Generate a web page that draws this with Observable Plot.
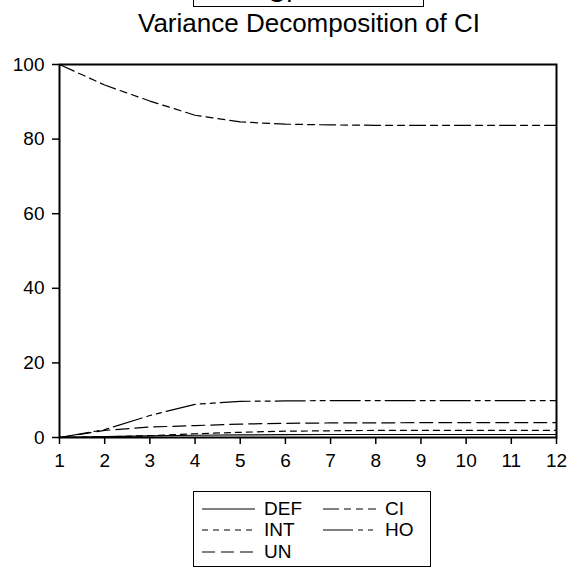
<!DOCTYPE html>
<html>
<head>
<meta charset="utf-8">
<script src="https://cdn.jsdelivr.net/npm/d3@7"></script>
<script src="https://cdn.jsdelivr.net/npm/@observablehq/plot@0.6"></script>
<style>
  html, body { margin: 0; padding: 0; background: #fff; }
  #page { position: relative; width: 579px; height: 569px; overflow: hidden; font-family: "Liberation Sans", Arial, sans-serif; color: #000; }
  #hdr { position: absolute; left: 193px; top: -40px; width: 231px; height: 47px; border: 1px solid #000; box-sizing: border-box; }
  #hdrtext { position: absolute; left: 267px; top: -20px; font-size: 26px; line-height: 26px; }
  #title { position: absolute; left: 0; width: 618px; top: 10px; text-align: center; font-size: 26px; line-height: 26px; white-space: nowrap; }
  #chart { position: absolute; left: 0; top: 40px; }
  #legend { position: absolute; left: 193px; top: 491px; width: 238px; height: 76px; border: 1px solid #000; box-sizing: border-box; }
  .item { position: absolute; height: 22px; font-size: 19px; line-height: 22px; white-space: nowrap; }
  .item svg { position: absolute; left: 0; top: 0; }
  .item span { position: absolute; top: 0; }
</style>
</head>
<body>
<div id="page">
  <div id="hdr"></div>
  <div id="hdrtext">CI</div>
  <div id="title">Variance Decomposition of CI</div>
  <div id="chart"></div>
  <div id="legend"></div>
</div>
<script>
const periods = [1, 2, 3, 4, 5, 6, 7, 8, 9, 10, 11, 12];
const xTicks = [1, 2, 3, 4, 5, 6, 7, 8, 9, 10, 11, 12];
const yTicks = [0, 20, 40, 60, 80, 100];
const seriesNames = ["DEF", "CI", "INT", "HO", "UN"];
const DEF = [0, 0.25, 0.45, 0.6, 0.7, 0.75, 0.8, 0.8, 0.8, 0.8, 0.8, 0.8];
const CI  = [100, 94.5, 90.2, 86.4, 84.6, 84.0, 83.8, 83.7, 83.7, 83.7, 83.7, 83.7];
const INT = [0, 0.2, 0.5, 1.0, 1.4, 1.7, 1.8, 1.9, 1.9, 1.9, 1.9, 1.9];
const HO  = [0, 2.1, 5.9, 8.9, 9.7, 9.8, 9.9, 9.9, 9.9, 9.9, 9.9, 9.9];
const UN  = [0, 1.9, 2.8, 3.2, 3.6, 3.8, 3.9, 3.9, 4.0, 4.0, 4.0, 4.0];

const values = {DEF, CI, INT, HO, UN};
const dashes = {DEF: null, CI: "16,5,7,5,7,5", INT: "6,5", HO: "30,5,5,5,5,5", UN: "13,6"};

const rows = [];
for (const name of seriesNames) {
  values[name].forEach((v, i) => rows.push({series: name, period: periods[i], value: v}));
}

const font = "'Liberation Sans', Arial, sans-serif";
const lineMarks = seriesNames.map(name => Plot.line(rows.filter(d => d.series === name), {
  x: "period", y: "value", stroke: "#000", strokeWidth: 1.2,
  strokeDasharray: dashes[name] || undefined, curve: "linear"
}));

const chart = Plot.plot({
  width: 579,
  height: 440,
  marginLeft: 59,
  marginRight: 23,
  marginTop: 24,
  marginBottom: 43,
  style: {fontFamily: font, fontSize: "19px", color: "#000", background: "#fff", overflow: "visible"},
  x: {domain: [1, 12], label: null},
  y: {domain: [0, 100], label: null},
  marks: [
    ...lineMarks,
    Plot.axisX({ticks: xTicks, tickSize: 7, tickPadding: 9, strokeWidth: 1.5, label: null, tickFormat: d => String(d)}),
    Plot.axisY({ticks: yTicks, tickSize: 7, tickPadding: 8, strokeWidth: 1.5, label: null, tickFormat: d => String(d)}),
    Plot.frame({stroke: "#000", strokeWidth: 2})
  ]
});
document.getElementById("chart").appendChild(chart);

// legend
const legend = document.getElementById("legend");
const legendPos = {
  DEF: [8, 6], CI: [129, 6], INT: [8, 27], HO: [129, 27], UN: [8, 49]
};
for (const name of seriesNames) {
  const [lx, ly] = legendPos[name];
  const item = document.createElement("div");
  item.className = "item";
  item.style.left = lx + "px";
  item.style.top = ly + "px";
  item.style.width = "110px";
  const dash = dashes[name] ? ` stroke-dasharray="${dashes[name]}"` : "";
  item.innerHTML = `<svg width="54" height="22"><line x1="0" x2="53" y1="11" y2="11" stroke="#000" stroke-width="1.2"${dash}/></svg><span style="left:62px">${name}</span>`;
  legend.appendChild(item);
}
</script>
</body>
</html>
